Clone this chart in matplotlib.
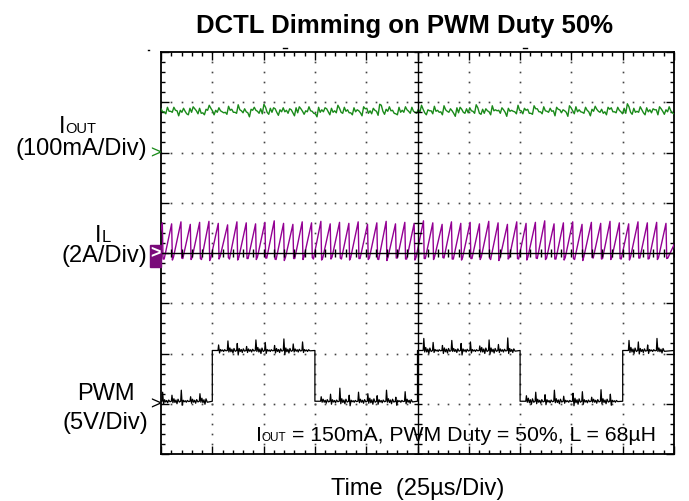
import numpy as np
import matplotlib.pyplot as plt
from matplotlib.patches import Rectangle
from matplotlib.lines import Line2D
from matplotlib.transforms import blended_transform_factory

plt.rcParams['font.family'] = ['Liberation Sans', 'DejaVu Sans']

# screen is 10 x 8 divisions, all values below are in divisions
iout_level = 6.82
# IOUT ripple, hundredths of a division
iout_noise = [2, -3, 4, -1, 5, -4, 0, 3, -6, 2, 7, -2, 1, -5, 3, 9, -3, 0, 4, -2,
              -4, 6, 1, -3, 8, -1, 2, -7, 3, 5, -2, 0, 11, -4, 2, 6, -5, 1, 3, -1,
              4, -6, 2, 7, -3, 0, 5, -2, -8, 3, 1, 6, -4, 2, -1, 9, -3, 4, 0, -5,
              3, 2, -6, 7, 1, -2, 4, -4, 13, -3, 2, 5, -1, -6, 3, 0, 6, -2, 4, -3,
              1, 8, -5, 2, -2, 5, 0, -4, 7, -1, 3, -7, 2, 6, -3, 1, 4, -2, 10, -5,
              0, 3, -4, 6, 2, -1, 5, -6, 3, 1, -3, 7, -2, 4, 0, -5, 8, 2, -3, 5,
              -1, 3, -4, 6, 0, 2, -6, 9, -2, 4, 1, -3, 5, -5, 2, 7, -1, 0, -4, 6,
              3, -2, 5, -3, 1, 12, -4, 2, -1, 6, -5, 3, 0, 4, -2, 7, -3, 1, 5, -4]
# half-height of the fuzz on each IOUT sample
iout_hair = [3, 2, 4, 1, 3, 5, 2, 3, 1, 4, 2, 3, 5, 2, 1, 3, 4, 2, 3, 1,
             2, 4, 3, 1, 5, 2, 3, 4, 1, 3, 2, 5, 3, 2, 4, 1, 3, 2, 4, 3,
             1, 3, 5, 2, 3, 1, 4, 2, 3, 5, 2, 1, 3, 4, 2, 3, 1, 4, 3, 2,
             4, 1, 3, 2, 5, 3, 2, 4, 1, 3, 2, 4, 3, 1, 5, 2, 3, 2, 4, 1,
             3, 4, 2, 1, 3, 5, 2, 3, 4, 1, 2, 3, 5, 2, 1, 4, 3, 2, 3, 1,
             4, 2, 3, 5, 1, 3, 2, 4, 3, 1, 2, 5, 3, 2, 4, 1, 3, 3, 2, 4,
             1, 3, 5, 2, 3, 1, 4, 2, 3, 5, 2, 1, 3, 4, 2, 3, 1, 4, 3, 2,
             4, 1, 3, 2, 5, 3, 2, 4, 1, 3, 2, 4, 3, 1, 5, 2, 3, 2, 4, 1]

# inductor current, one peak / valley per switching cycle (offset from 4 div, x0.01)
il_base = 4.0
il_peak = [60, 58, 62, 57, 61, 63, 59, 56, 62, 60, 58, 61, 64, 59, 57, 62, 60, 63, 58, 61,
           59, 62, 57, 60, 63, 58, 61, 59, 64, 60, 57, 62, 59, 61, 58, 63, 60, 57, 62, 59,
           61, 64, 58, 60, 62, 57, 61, 59, 63, 60, 58, 62, 60, 61, 59]
il_valley = [-10, -12, -8, -11, -9, -13, -10, -7, -12, -9, -11, -8, -10, -13, -9, -11, -7, -12, -10, -8,
             -12, -9, -11, -10, -13, -8, -10, -12, -9, -11, -7, -10, -12, -9, -11, -8, -13, -10, -9, -12,
             -8, -11, -10, -12, -9, -13, -7, -10, -11, -9, -12, -8, -10, -11, -9]

# PWM signal
pwm_edges = [0, 1, 3, 5, 7, 9, 10]
pwm_states = [0, 1, 0, 1, 0, 1]
pwm_low = 1.05
pwm_high = 2.06
pwm_spike = [18, 12, 22, 9, 15, 25, 11, 19, 14, 8, 21, 16, 10, 23, 13, 17, 20, 9, 14, 26,
             12, 18, 15, 11, 22, 8, 19, 13, 24, 16, 10, 20, 14, 17, 9, 21, 12, 25, 15, 11,
             18, 13, 22, 10, 16, 19, 8, 23, 14, 12, 20, 17, 11, 24, 15]
pwm_dip = [6, 3, 8, 4, 2, 7, 5, 3, 9, 4, 2, 6, 5, 8, 3, 4, 7, 2, 6, 5,
           9, 3, 4, 6, 2, 8, 5, 7, 3, 4, 6, 2, 9, 5, 3, 7, 4, 6, 8, 2,
           5, 7, 3, 4, 9, 6, 2, 5, 8, 3, 4, 7, 6, 2, 5]
pwm_hair = [3, 5, 2, 4, 6, 3, 2, 5, 4, 3, 6, 2, 4, 5, 3, 2, 6, 4, 3, 5,
            2, 4, 6, 3, 5, 2, 4, 3, 6, 2, 5, 4, 3, 2, 6, 5, 3, 4, 2, 6,
            4, 3, 5, 2, 6, 3, 4, 5, 2, 3, 6, 4, 2, 5, 3]

green = '#1a8a1a'
purple = '#930093'

fig = plt.figure(figsize=(6.89, 5.02), dpi=100)
ax = fig.add_axes([161 / 689, 1 - 455 / 502, 513 / 689, 402 / 502])
ax.set_xlim(0, 10)
ax.set_ylim(0, 8)

# dotted graticule
minor_x = np.arange(0, 10.01, 0.2)
minor_y = np.arange(0, 8.01, 0.2)
for gx in range(1, 10):
    if gx != 5:
        ax.plot(np.full(len(minor_y), gx), minor_y, ls='none', marker='s', ms=1.2,
                mew=0, color='#444444', zorder=1)
for gy in range(1, 8):
    if gy != 4:
        ax.plot(minor_x, np.full(len(minor_x), gy), ls='none', marker='s', ms=1.2,
                mew=0, color='#444444', zorder=1)

# IOUT trace (zig-zag through each sample to show the fuzz)
n = len(iout_noise)
t_iout = np.linspace(0, 10, 2 * n)
v_iout = []
for i in range(n):
    v_iout += [iout_level + (iout_noise[i] + iout_hair[i]) / 100,
               iout_level + (iout_noise[i] - iout_hair[i]) / 100]
ax.plot(t_iout, v_iout, color=green, lw=1.0, zorder=3)

# IL trace: slow ramp up, fast drop
period = 10 / len(il_peak)
t_il, v_il = [], []
for i in range(len(il_peak)):
    t0 = -0.12 + i * period
    t_il += [t0, t0 + 0.8 * period, t0 + 0.88 * period]
    v_il += [il_base + il_valley[i] / 100, il_base + il_peak[i] / 100,
             il_base + il_valley[i] / 100 - 0.02]
t_il += [10 - 0.12, 10.2]
v_il += [il_base + il_valley[0] / 100, il_base + il_peak[0] / 100]
ax.plot(t_il, v_il, color=purple, lw=1.0, zorder=3)

# PWM trace
t_pwm, v_pwm = [], []
for j in range(len(pwm_states)):
    a, b = pwm_edges[j], pwm_edges[j + 1]
    lvl = pwm_high if pwm_states[j] else pwm_low
    t_pwm.append(a)
    v_pwm.append(lvl)
    for i in range(len(pwm_spike)):
        t0 = 0.02 + i * period
        if a + 0.01 < t0 and t0 + period < b + 0.02:
            h = pwm_hair[i] / 100
            t_pwm += [t0, t0 + 0.012, t0 + 0.03, t0 + 0.05, t0 + 0.07,
                      t0 + 0.09, t0 + 0.11, t0 + 0.13, t0 + 0.155]
            v_pwm += [lvl, lvl + pwm_spike[i] / 100, lvl - pwm_dip[i] / 100,
                      lvl + h, lvl - h / 2, lvl + h / 2, lvl - h, lvl + h * 0.8, lvl - h / 3]
    t_pwm.append(b)
    v_pwm.append(lvl)
ax.plot(t_pwm, v_pwm, color='black', lw=0.9, zorder=3)

# center crosshair with ticks
ax.axvline(5, color='black', lw=1.0, zorder=4)
ax.axhline(4, color='black', lw=1.0, zorder=4)
ax.plot(np.full(len(minor_y), 5), minor_y, ls='none', marker='_', ms=6, mew=1.0,
        color='black', zorder=4)
ax.plot(minor_x, np.full(len(minor_x), 4), ls='none', marker='|', ms=6, mew=1.0,
        color='black', zorder=4)

# frame ticks
ax.set_xticks(range(0, 11))
ax.set_yticks(range(0, 9))
ax.set_xticks(minor_x, minor=True)
ax.set_yticks(minor_y, minor=True)
ax.tick_params(which='both', direction='in', top=True, right=True,
               labelbottom=False, labelleft=False, width=1.0, color='black')
ax.tick_params(which='major', length=6)
ax.tick_params(which='minor', length=3)
for s in ax.spines.values():
    s.set_linewidth(1.3)

# channel markers
trans = blended_transform_factory(ax.transAxes, ax.transData)
ax.text(-0.011, 6.0, '>', transform=trans, ha='center', va='center', color=green,
        fontsize=13, clip_on=False)
ax.add_patch(Rectangle((-0.0215, 3.72), 0.0215, 0.43, transform=trans, color='#7a0a7a',
                       clip_on=False, zorder=5))
ax.text(-0.0108, 4.0, '>', transform=trans, ha='center', va='center', color='white',
        fontsize=13, fontweight='bold', clip_on=False, zorder=6)
ax.text(-0.011, 1.0, '>', transform=trans, ha='center', va='center', color='black',
        fontsize=13, clip_on=False)


def ftext(x, y, s, **kw):
    fig.text(x / 689, 1 - y / 502, s, va='baseline', **kw)


ftext(405, 33, 'DCTL Dimming on PWM Duty 50%', ha='center', fontsize=18.5, fontweight='bold')
ftext(59, 133, 'I', ha='left', fontsize=17)
ftext(65.5, 133, 'OUT', ha='left', fontsize=10.5)
ftext(147, 155, '(100mA/Div)', ha='right', fontsize=17)
ftext(95, 242, 'I', ha='left', fontsize=17)
ftext(102, 242, 'L', ha='left', fontsize=12)
ftext(147, 262, '(2A/Div)', ha='right', fontsize=17)
ftext(106, 400, 'PWM', ha='center', fontsize=17)
ftext(148, 429, '(5V/Div)', ha='right', fontsize=17)
ftext(256.5, 441, 'I', ha='left', fontsize=15.3)
ftext(262, 441, 'OUT', ha='left', fontsize=8.5)
ftext(292, 441, '= 150mA, PWM Duty = 50%, L = 68µH', ha='left', fontsize=15.3)
ftext(418, 495, 'Time  (25µs/Div)', ha='center', fontsize=17)

# small trigger marks above the screen
for mx in (285, 525):
    fig.add_artist(Line2D([(mx - 2) / 689, (mx + 2) / 689], [1 - 49 / 502, 1 - 49 / 502],
                          color='black', lw=1.0))
fig.add_artist(Line2D([148 / 689, 149 / 689], [1 - 51 / 502, 1 - 51 / 502], color='black', lw=1.0))

fig.savefig('out.png', dpi=100)
